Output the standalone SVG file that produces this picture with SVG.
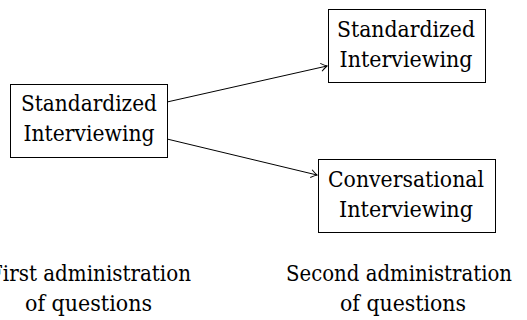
<svg xmlns="http://www.w3.org/2000/svg" width="527" height="320" viewBox="0 0 527 320">
<style>
.box{fill:#fff;stroke:#000;stroke-width:1}
.t{font-family:'DejaVu Serif','Liberation Serif',serif;font-size:22.5px;fill:#000;text-anchor:middle}
.edge{fill:none;stroke:#000;stroke-width:1}
</style>
<defs>
<marker id="arr" viewBox="-8 -5 10 10" refX="0" refY="0" markerWidth="10" markerHeight="10" markerUnits="userSpaceOnUse" orient="auto">
<path d="M-6,-4 Q-2,-1 0,0 Q-2,1 -6,4" fill="none" stroke="#000" stroke-width="1"/>
</marker>
</defs>
<g id="connectors">
<line class="edge" x1="167" y1="102" x2="327" y2="66" marker-end="url(#arr)"/>
<line class="edge" x1="167" y1="139" x2="317" y2="175" marker-end="url(#arr)"/>
</g>
<g id="n1">
<rect class="box" x="10.5" y="84.5" width="157" height="73"/>
<text class="t" x="89" y="111" textLength="136" lengthAdjust="spacingAndGlyphs">Standardized</text>
<text class="t" x="89" y="141" textLength="131" lengthAdjust="spacingAndGlyphs">Interviewing</text>
</g>
<g id="n2">
<rect class="box" x="328.5" y="9.5" width="157" height="73"/>
<text class="t" x="406" y="37" textLength="138" lengthAdjust="spacingAndGlyphs">Standardized</text>
<text class="t" x="406" y="67" textLength="133" lengthAdjust="spacingAndGlyphs">Interviewing</text>
</g>
<g id="n3">
<rect class="box" x="318.5" y="159.5" width="177" height="73"/>
<text class="t" x="406" y="187" textLength="156" lengthAdjust="spacingAndGlyphs">Conversational</text>
<text class="t" x="406" y="217" textLength="134" lengthAdjust="spacingAndGlyphs">Interviewing</text>
</g>
<g id="label1">
<text class="t" x="90" y="281" textLength="202" lengthAdjust="spacingAndGlyphs">First administration</text>
<text class="t" x="88.5" y="311" textLength="127" lengthAdjust="spacingAndGlyphs">of questions</text>
</g>
<g id="label2">
<text class="t" x="399" y="281" textLength="226" lengthAdjust="spacingAndGlyphs">Second administration</text>
<text class="t" x="403" y="311" textLength="126" lengthAdjust="spacingAndGlyphs">of questions</text>
</g>
</svg>
